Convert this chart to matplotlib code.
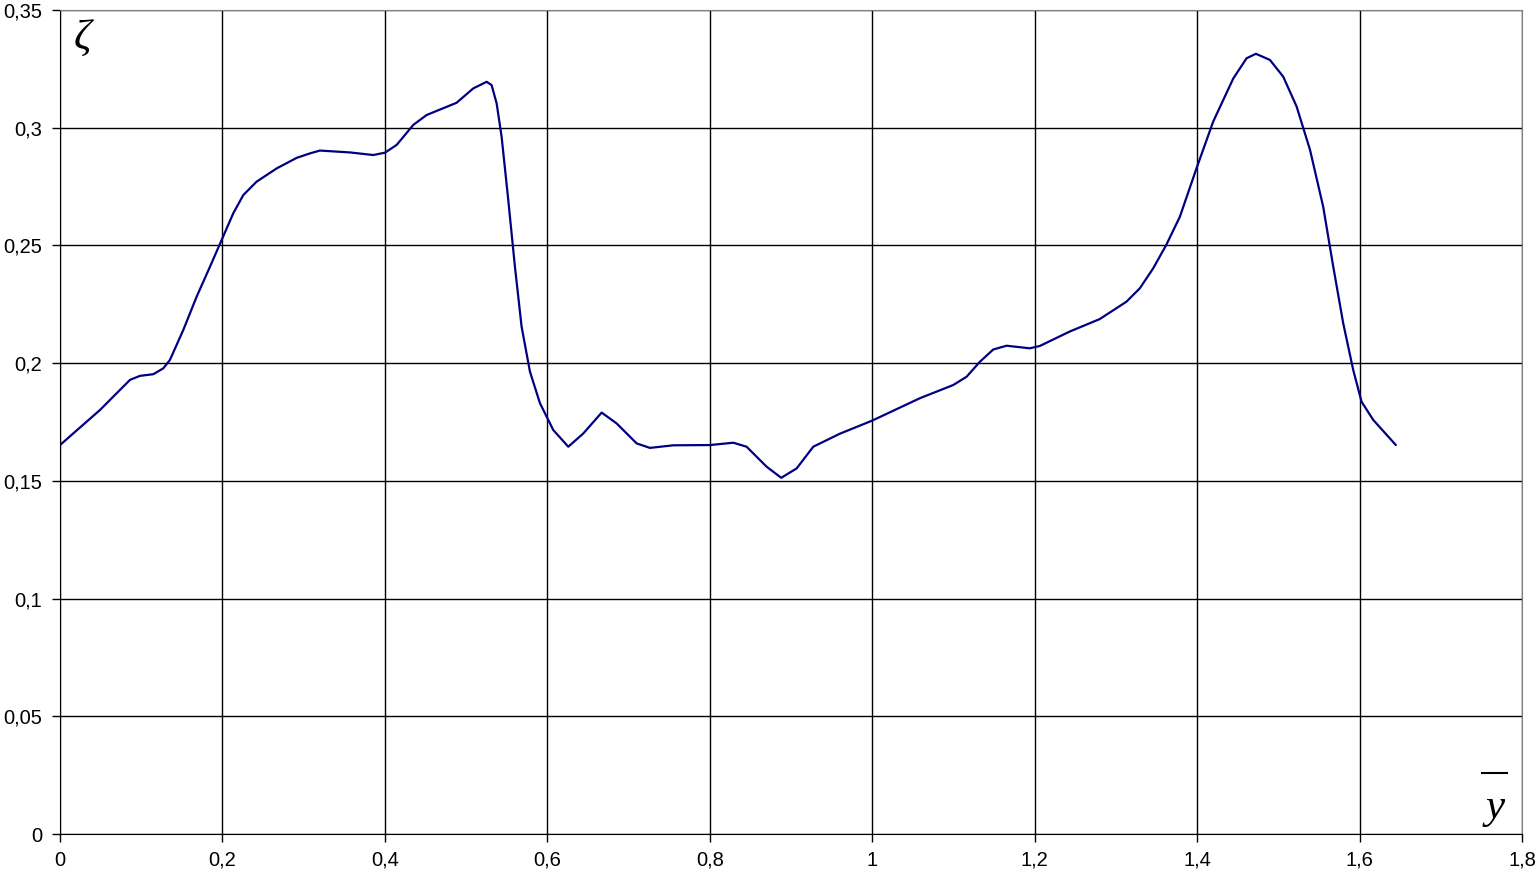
import numpy as np
import matplotlib
matplotlib.use('Agg')
import matplotlib.pyplot as plt
from matplotlib.ticker import FuncFormatter

# values
y_bar = [0.0, 0.0492, 0.0862, 0.0985, 0.1149, 0.1272, 0.1354, 0.1518, 0.1682, 0.1847,
         0.199, 0.2134, 0.2257, 0.2421, 0.2667, 0.2914, 0.3078, 0.320, 0.357, 0.3857,
         0.4001, 0.4145, 0.435, 0.4514, 0.4883, 0.5088, 0.5253, 0.5314, 0.5376, 0.5437,
         0.5519, 0.5601, 0.5683, 0.5786, 0.5909, 0.6073, 0.6258, 0.6442, 0.6669, 0.6853,
         0.710, 0.7263, 0.755, 0.800, 0.829, 0.8453, 0.870, 0.888, 0.907, 0.9274,
         0.960, 1.000, 1.0587, 1.0997, 1.1161, 1.1326, 1.149, 1.1654, 1.194, 1.2064,
         1.243, 1.28, 1.313, 1.3295, 1.3458, 1.362, 1.3788, 1.3993, 1.4198, 1.4445,
         1.4609, 1.4724, 1.4896, 1.506, 1.5225, 1.539, 1.5552, 1.5676, 1.5799, 1.5922,
         1.6025, 1.6168, 1.6447]
zeta = [0.1652, 0.1801, 0.1929, 0.1946, 0.1953, 0.1978, 0.2014, 0.2141, 0.2282, 0.241,
        0.2523, 0.2637, 0.2714, 0.2771, 0.2827, 0.2872, 0.2891, 0.2903, 0.2895, 0.2884,
        0.2894, 0.2927, 0.3012, 0.3054, 0.3106, 0.3167, 0.3195, 0.3181, 0.3103, 0.2962,
        0.2693, 0.241, 0.2155, 0.1964, 0.183, 0.1716, 0.1645, 0.1701, 0.179, 0.1744,
        0.1659, 0.164, 0.1651, 0.1652, 0.1662, 0.1645, 0.156, 0.1513, 0.1553, 0.1645,
        0.1700, 0.1756, 0.1851, 0.1907, 0.1942, 0.2006, 0.2058, 0.2074, 0.2063, 0.2073,
        0.2134, 0.2187, 0.2261, 0.2318, 0.2402, 0.2502, 0.2622, 0.2828, 0.3026, 0.3209,
        0.3295, 0.3314, 0.3288, 0.3217, 0.309, 0.2906, 0.2665, 0.241, 0.2169, 0.1971,
        0.1836, 0.1759, 0.1652]

x_ticks = np.arange(0, 1.81, 0.2)
y_ticks = np.arange(0, 0.351, 0.05)

plt.rcParams['font.family'] = ['Liberation Sans', 'DejaVu Sans']

fig = plt.figure(figsize=(15.4, 8.71), dpi=100)
ax = fig.add_axes([60/1540, 1-834/871, 1462/1540, 824/871])

ax.plot(y_bar, zeta, color='#000080', lw=1.6, solid_joinstyle='round',
        solid_capstyle='round')

ax.set_xlim(0, 1.8)
ax.set_ylim(0, 0.35)
ax.set_xticks(x_ticks)
ax.set_yticks(y_ticks)
comma = FuncFormatter(lambda v, p: ('%g' % round(v, 3)).replace('.', ','))
ax.xaxis.set_major_formatter(comma)
ax.yaxis.set_major_formatter(comma)
ax.tick_params(direction='out', length=6, width=1, labelsize=14.5, color='black')
ax.tick_params(axis='x', pad=6)
ax.tick_params(axis='y', pad=7)
ax.grid(True, color='black', lw=1)
ax.set_axisbelow(True)

ax.spines['top'].set_color('#808080')
ax.spines['right'].set_color('#808080')
for s in ['left', 'bottom']:
    ax.spines[s].set_color('black')

# axis symbols, as in the reference
ax.text(0.009, 0.988, '\u03b6', transform=ax.transAxes, ha='left', va='top',
        fontsize=31, family='Liberation Serif', style='italic')
ax.text(0.9885, 0.008, 'y', transform=ax.transAxes, ha='right', va='bottom',
        fontsize=31, family='Liberation Serif', style='italic')
ax.plot([0.9728, 0.9895], [0.0745, 0.0745], transform=ax.transAxes,
        color='black', lw=1.5, clip_on=False)

fig.savefig('out.png', dpi=100)
